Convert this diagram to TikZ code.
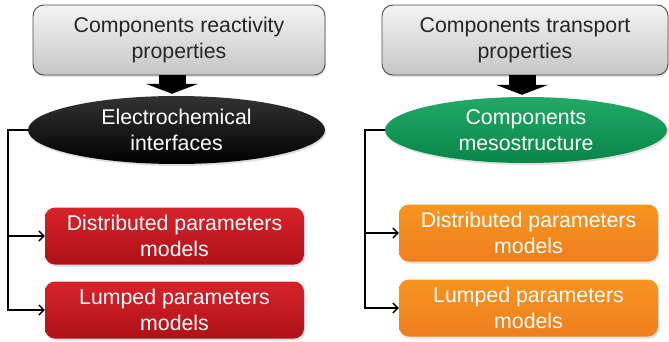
\documentclass[tikz,border=0pt]{standalone}
\usepackage{fontspec}
\setmainfont{Liberation Sans}
\usetikzlibrary{arrows.meta,shapes.geometric,shadows}
\definecolor{txtgray}{HTML}{262626}
\definecolor{graytop}{HTML}{F4F4F4}
\definecolor{graybot}{HTML}{C6C6C6}
\definecolor{redtop}{HTML}{D9222A}
\definecolor{redbot}{HTML}{AE1218}
\definecolor{orgtop}{HTML}{F7941E}
\definecolor{orgbot}{HTML}{F07F1E}
\definecolor{grntop}{HTML}{22AA66}
\definecolor{grnbot}{HTML}{078548}
\tikzset{
  txt/.style={align=center,font=\fontsize{21.3}{26}\selectfont},
  propbox/.style={txt,rectangle,rounded corners=11pt,draw=black!70,line width=0.9pt,
    top color=graytop,bottom color=graybot,text=txtgray,inner sep=0pt,
    drop shadow={opacity=0.25,shadow xshift=1pt,shadow yshift=-2pt}},
  oval/.style={txt,ellipse,inner sep=0pt,text=white,
    drop shadow={opacity=0.25,shadow xshift=1pt,shadow yshift=-2pt}},
  redbox/.style={txt,rectangle,rounded corners=10pt,top color=redtop,bottom color=redbot,
    text=white,inner sep=0pt,minimum width=259pt,minimum height=57pt,
    drop shadow={opacity=0.25,shadow xshift=1pt,shadow yshift=-2pt}},
  orgbox/.style={redbox,top color=orgtop,bottom color=orgbot},
  link/.style={line width=1.4pt,-{Straight Barb[length=5pt,width=10pt,line width=1.4pt]}},
  blockarrow/.style={line width=27pt,-{Triangle[length=10pt,width=52pt]}}
}
\begin{document}
\begin{tikzpicture}[x=1pt,y=-1pt]
\fill[white] (0,0) rectangle (669,342);
\useasboundingbox (0,0) rectangle (669,342);

% left column
\node[propbox,minimum width=292pt,minimum height=70pt] (g1) at (179,40) {Components reactivity\\properties};
\node[oval,top color=black!80,bottom color=black,minimum width=297pt,minimum height=68pt] (e1) at (176.5,130) {Electrochemical\\interfaces};
\node[redbox] (r1) at (174.5,236) {Distributed parameters\\models};
\node[redbox] (r2) at (174.5,310) {Lumped parameters\\models};

% right column
\node[propbox,minimum width=286pt,minimum height=70pt] (g2) at (525,40) {Components transport\\properties};
\node[oval,top color=grntop,bottom color=grnbot,minimum width=282pt,minimum height=66pt] (e2) at (526,130) {Components\\mesostructure};
\node[orgbox] (o1) at (528.5,233) {Distributed parameters\\models};
\node[orgbox] (o2) at (528.5,308) {Lumped parameters\\models};

% block arrows
\draw[blockarrow] ([xshift=-7pt]g1.south) -- ([xshift=-7pt,yshift=2pt]g1.south |- e1.north);
\draw[blockarrow] ([xshift=-3pt]g2.south) -- ([xshift=-3pt,yshift=2pt]g2.south |- e2.north);

% connectors
\draw[link] (e1.west) -- ++(-20,0) |- (r1.west);
\draw[link] (e1.west) -- ++(-20,0) |- (r2.west);
\draw[link] (e2.west) -- ++(-20,0) |- (o1.west);
\draw[link] (e2.west) -- ++(-20,0) |- (o2.west);
\end{tikzpicture}
\end{document}
